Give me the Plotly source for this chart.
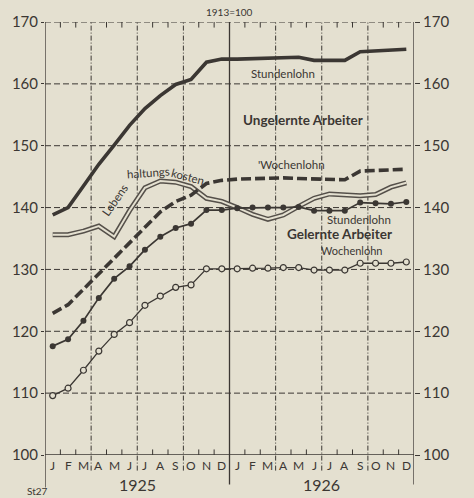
import plotly.graph_objects as go

# ---------------- data ----------------
month_labels = ["J", "F", "M", "A", "M", "J", "J", "A", "S", "O", "N", "D",
                "J", "F", "M", "A", "M", "J", "J", "A", "S", "O", "N", "D"]
year_labels = ["1925", "1926"]
y_ticks = [100, 110, 120, 130, 140, 150, 160, 170]

ungelernte_stundenlohn = [138.8, 140.0, 143.5, 147.0, 150.1, 153.3, 156.0, 158.1, 159.9, 160.7, 163.5, 164.0,
                          164.0, 164.1, 164.2, 164.3, 164.3, 163.8, 163.8, 163.8, 165.2, 165.3, 165.4, 165.6]
ungelernte_wochenlohn = [122.9, 124.3, 126.8, 129.3, 132.0, 134.5, 137.0, 139.3, 141.0, 142.0, 143.9, 144.4,
                         144.6, 144.7, 144.8, 144.8, 144.7, 144.6, 144.5, 144.5, 145.9, 146.0, 146.1, 146.2]
lebenshaltungskosten = [135.6, 135.6, 136.2, 137.0, 135.3, 139.5, 143.2, 144.3, 144.1, 143.4, 141.5, 141.0,
                        140.0, 138.9, 138.1, 138.8, 140.2, 141.5, 142.2, 142.0, 141.9, 142.1, 143.3, 144.0]
gelernte_stundenlohn = [117.6, 118.7, 121.7, 125.4, 128.5, 130.5, 133.2, 135.3, 136.7, 137.4, 139.6, 139.6,
                        139.9, 140.0, 140.0, 140.0, 140.1, 139.5, 139.5, 139.5, 140.8, 140.7, 140.6, 140.9]
gelernte_wochenlohn = [109.6, 110.8, 113.7, 116.8, 119.5, 121.4, 124.2, 125.7, 127.1, 127.5, 130.1, 130.1,
                       130.1, 130.2, 130.2, 130.3, 130.3, 129.9, 129.9, 129.9, 131.0, 131.0, 131.0, 131.2]

# ---------------- styling ----------------
BG = "#e4e0d0"
INK = "#3b3733"
FONT = "Lato"

x = [i + 0.5 for i in range(len(month_labels))]

fig = go.Figure()

# Lebenshaltungskosten: double line
fig.add_trace(go.Scatter(x=x, y=lebenshaltungskosten, mode="lines",
                         line=dict(color="#55504a", width=5), hoverinfo="skip", showlegend=False))
fig.add_trace(go.Scatter(x=x, y=lebenshaltungskosten, mode="lines",
                         line=dict(color=BG, width=2), hoverinfo="skip", showlegend=False))
# Ungelernte
fig.add_trace(go.Scatter(x=x, y=ungelernte_stundenlohn, mode="lines",
                         line=dict(color=INK, width=3.6), showlegend=False))
fig.add_trace(go.Scatter(x=x, y=ungelernte_wochenlohn, mode="lines",
                         line=dict(color=INK, width=3.6, dash="10px,4px"), showlegend=False))
# Gelernte
fig.add_trace(go.Scatter(x=x, y=gelernte_stundenlohn, mode="lines+markers",
                         line=dict(color=INK, width=1.7),
                         marker=dict(symbol="circle", size=6, color=INK), showlegend=False))
fig.add_trace(go.Scatter(x=x, y=gelernte_wochenlohn, mode="lines+markers",
                         line=dict(color=INK, width=1.3),
                         marker=dict(symbol="circle", size=6, color=BG, line=dict(color=INK, width=1.2)),
                         showlegend=False))
# invisible trace to activate right axis
fig.add_trace(go.Scatter(x=[x[0]], y=[100], yaxis="y2", mode="markers",
                         marker=dict(opacity=0), hoverinfo="skip", showlegend=False))

shapes = []
# horizontal grid lines
for v in y_ticks[1:]:
    shapes.append(dict(type="line", xref="x", yref="y", x0=0, x1=24, y0=v, y1=v,
                       line=dict(color=INK, width=1, dash="6px,3px"), layer="below"))
# vertical quarter lines (dash-dot), extend into label row
for q in [3, 6, 9, 15, 18, 21]:
    shapes.append(dict(type="line", xref="x", yref="paper", x0=q, x1=q, y0=-0.036, y1=1,
                       line=dict(color=INK, width=1, dash="5px,2px,1px,2px"), layer="below"))
# solid verticals
for q, y0 in [(0, -0.075), (12, -0.068), (24, -0.068)]:
    shapes.append(dict(type="line", xref="x", yref="paper", x0=q, x1=q, y0=y0, y1=1,
                       line=dict(color=INK, width=1.3), layer="below"))
# bottom axis line
shapes.append(dict(type="line", xref="x", yref="y", x0=0, x1=24, y0=100, y1=100,
                   line=dict(color=INK, width=1.3), layer="below"))
# small month-boundary ticks top and bottom
for b in range(1, 24):
    if b % 3 == 0:
        continue
    shapes.append(dict(type="line", xref="x", yref="y", x0=b, x1=b, y0=100, y1=100.9,
                       line=dict(color=INK, width=1), layer="below"))
    shapes.append(dict(type="line", xref="x", yref="y", x0=b, x1=b, y0=170, y1=169.1,
                       line=dict(color=INK, width=1), layer="below"))

annotations = []
# month labels
for xi, m in zip(x, month_labels):
    annotations.append(dict(x=xi, y=-0.024, xref="x", yref="paper", text=m, showarrow=False,
                            font=dict(family=FONT, size=12, color=INK), yanchor="middle"))
for xi, yl in zip([6, 18], year_labels):
    annotations.append(dict(x=xi, y=-0.068, xref="x", yref="paper", text=yl, showarrow=False,
                            font=dict(family=FONT, size=16, color=INK), yanchor="middle"))

def label(text, u, v, size=11, bold=False, angle=0):
    t = f"<b>{text}</b>" if bold else text
    annotations.append(dict(x=u, y=v, xref="x", yref="y", text=t, showarrow=False, textangle=angle,
                            font=dict(family=FONT, size=size, color=INK)))

label("Stundenlohn", 15.47, 161.6, 11.5)
label("Ungelernte Arbeiter", 16.75, 154.1, 13.5, True)
label("'Wochenlohn", 16.05, 146.9, 11.5)
label("Stundenlohn", 20.4, 138.0, 11.5)
label("Gelernte Arbeiter", 19.13, 135.7, 13.5, True)
label("Wochenlohn", 19.96, 133.0, 11)
label("Lebens", 4.5, 141.2, 11.5, angle=-55)
label("haltungs", 6.75, 145.6, 11.5, angle=-4)
label("kosten", 9.3, 145.0, 11.5, angle=15)

annotations.append(dict(x=0.5, y=1.023, xref="paper", yref="paper", text="1913=100", showarrow=False,
                        font=dict(family=FONT, size=10, color=INK), yanchor="middle"))
annotations.append(dict(x=-0.055, y=-0.084, xref="paper", yref="paper", text="St27", showarrow=False,
                        font=dict(family=FONT, size=10, color=INK), yanchor="middle"))

axis_font = dict(family=FONT, size=15, color=INK)
fig.update_layout(
    width=474, height=498,
    margin=dict(l=40, r=60, t=15, b=43),
    paper_bgcolor=BG, plot_bgcolor=BG,
    xaxis=dict(range=[0, 24], showticklabels=False, showgrid=False, zeroline=False,
               showline=False, ticks="", fixedrange=True),
    yaxis=dict(range=[100, 170], tickvals=y_ticks, showgrid=False, zeroline=False, showline=False,
               ticks="outside", ticklen=3, tickcolor=INK, tickfont=axis_font, fixedrange=True),
    yaxis2=dict(range=[100, 170], tickvals=y_ticks, overlaying="y", side="right", anchor="x",
                showgrid=False, zeroline=False, showline=False,
                ticks="outside", ticklen=5, tickcolor=INK, tickfont=axis_font, fixedrange=True),
    shapes=shapes,
    annotations=annotations,
    showlegend=False,
)

fig.write_html("out.html", config={"displayModeBar": False},
               post_script="document.body.style.margin='0';document.body.style.background='" + BG + "';")
